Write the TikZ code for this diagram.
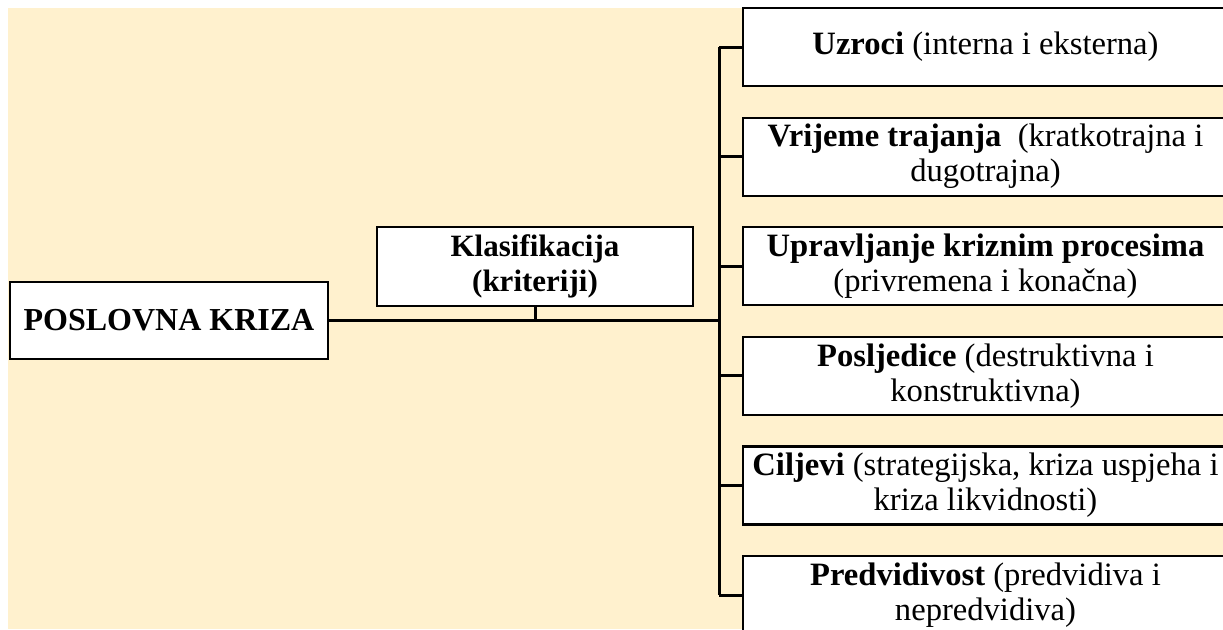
\documentclass[tikz,border=0pt]{standalone}
\usepackage{fontspec}
\setmainfont{Liberation Serif}
\usetikzlibrary{positioning}
\definecolor{krizabg}{RGB}{255,241,206}

\begin{document}
\begin{tikzpicture}[
  x=0.5pt, y=-0.5pt,
  node distance=54.8pt,
  rootnode/.style={rectangle, draw=black, fill=white, line width=1.1pt, minimum width=159pt, minimum height=38.5pt, align=center, font=\fontsize{16}{17}\selectfont\bfseries},
  klasnode/.style={rectangle, draw=black, fill=white, line width=1.1pt, minimum width=158pt, minimum height=39.5pt, align=center, font=\fontsize{15.5}{17.5}\selectfont\bfseries},
  critnode/.style={rectangle, draw=black, fill=white, line width=1.1pt, minimum width=242.5pt, minimum height=39pt, align=center, inner sep=0pt, font=\fontsize{16.3}{17.5}\selectfont},
  link/.style={line width=1.5pt}
]

% Background
\fill[white] (0,0) rectangle (1223,629);
\useasboundingbox (0,0) rectangle (1223,629);
\fill[krizabg] (8,8) rectangle (1223,629);

% Root and classification
\node[rootnode] (root) at (169,320.5) {POSLOVNA KRIZA};
\node[klasnode] (klas) at (535,266.5) {Klasifikacija\\(kriteriji)};

% Criteria
\node[critnode] (uzroci) at (985.5,47) {\textbf{Uzroci} (interna i eksterna)};
\node[critnode, below of=uzroci] (vrijeme) {\textbf{Vrijeme trajanja}\ \ (kratkotrajna i\\dugotrajna)};
\node[critnode, below of=vrijeme] (uprav) {\textbf{Upravljanje kriznim procesima}\\(privremena i konačna)};
\node[critnode, below of=uprav] (posljed) {\textbf{Posljedice} (destruktivna i\\konstruktivna)};
\node[critnode, below of=posljed] (ciljevi) {\textbf{Ciljevi} (strategijska, kriza uspjeha i\\kriza likvidnosti)};
\node[critnode, below of=ciljevi] (predv) {\textbf{Predvidivost} (predvidiva i\\nepredvidiva)};

% Connectors
\coordinate (trunk) at (719,320.5);
\draw[link] (root.east) -- (trunk);
\draw[link] (klas.south) -- (klas.south |- trunk);
\draw[link] (trunk |- uzroci) -- (trunk |- predv);
\foreach \crit in {uzroci, vrijeme, uprav, posljed, ciljevi, predv}
  \draw[link] (trunk |- \crit) -- (\crit.west);

\end{tikzpicture}
\end{document}
